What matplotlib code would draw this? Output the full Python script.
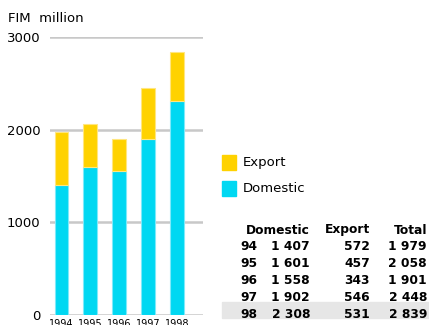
import matplotlib.pyplot as plt
from matplotlib.patches import Rectangle

plt.rcParams['font.family'] = ['DejaVu Sans']

years = ['1994', '1995', '1996', '1997', '1998']
domestic = [1407, 1601, 1558, 1902, 2308]
export = [572, 457, 343, 546, 531]
row_labels = ['94', '95', '96', '97', '98']
domestic_txt = ['1 407', '1 601', '1 558', '1 902', '2 308']
export_txt = ['572', '457', '343', '546', '531']
total_txt = ['1 979', '2 058', '1 901', '2 448', '2 839']

cyan = '#00d8f2'
gold = '#ffd200'

W, H = 429, 325
fig = plt.figure(figsize=(W / 100, H / 100), dpi=100)

def fx(px):
    return px / W

def fy(py):
    return 1 - py / H

ax = fig.add_axes([fx(50), fy(315), fx(203) - fx(50), fy(37) - fy(315)])
x = range(len(years))
ax.bar(x, domestic, width=0.48, color=cyan, edgecolor='#7eeafa', linewidth=0.8, zorder=3)
ax.bar(x, export, bottom=domestic, width=0.48, color=gold, edgecolor='#ffe680', linewidth=0.8, zorder=3)
ax.set_ylim(0, 3000)
ax.set_xlim(-0.4, 4.9)
ax.set_yticks([0, 1000, 2000, 3000])
ax.set_yticklabels(['0', '1000', '2000', '3000'], fontsize=9.5)
ax.set_xticks(list(x))
ax.set_xticklabels(years, fontsize=7)
ax.tick_params(length=0, axis='y', pad=7)
ax.tick_params(length=0, axis='x', pad=3)
ax.grid(axis='y', color='#c8c8c8', linewidth=1.8, zorder=0)
for s in ax.spines.values():
    s.set_visible(False)
ax.set_facecolor('none')

fig.text(fx(8), fy(18), 'FIM  million', fontsize=9.5, va='center', ha='left')

# legend
fig.add_artist(Rectangle((fx(222), fy(170)), fx(14), fy(155) - fy(170), color=gold, transform=fig.transFigure))
fig.add_artist(Rectangle((fx(222), fy(196)), fx(14), fy(181) - fy(196), color=cyan, transform=fig.transFigure))
fig.text(fx(243), fy(162), 'Export', fontsize=9.5, va='center')
fig.text(fx(243), fy(189), 'Domestic', fontsize=9.5, va='center')

# table
fig.add_artist(Rectangle((fx(222), fy(318)), fx(429) - fx(222), fy(302) - fy(318),
                         color='#e6e6e6', transform=fig.transFigure, zorder=0))
hy = 230
fs = 8.8
fig.text(fx(310), fy(hy), 'Domestic', fontsize=fs, weight='bold', ha='right', va='center')
fig.text(fx(370), fy(hy), 'Export', fontsize=fs, weight='bold', ha='right', va='center')
fig.text(fx(427), fy(hy), 'Total', fontsize=fs, weight='bold', ha='right', va='center')
for i in range(len(row_labels)):
    y = fy(247 + i * 16.8)
    fig.text(fx(240), y, row_labels[i], fontsize=fs, weight='bold', va='center')
    fig.text(fx(310), y, domestic_txt[i], fontsize=fs, weight='bold', ha='right', va='center')
    fig.text(fx(370), y, export_txt[i], fontsize=fs, weight='bold', ha='right', va='center')
    fig.text(fx(427), y, total_txt[i], fontsize=fs, weight='bold', ha='right', va='center')

fig.savefig('out.png', dpi=100)
